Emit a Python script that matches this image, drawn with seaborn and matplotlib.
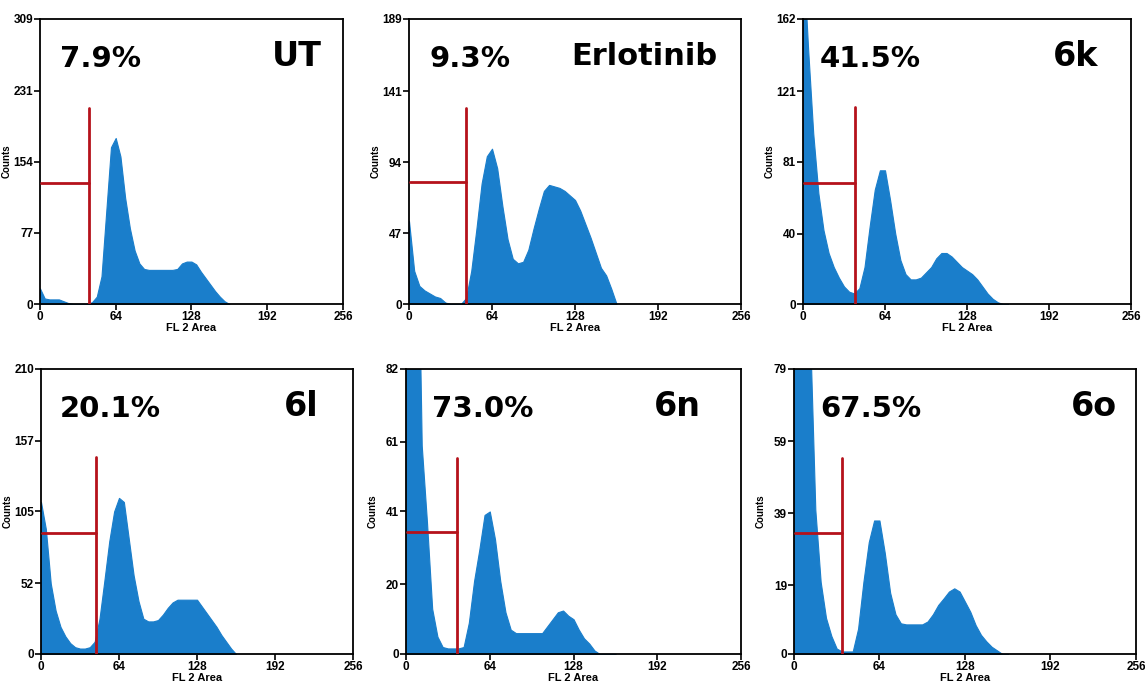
import numpy as np
import pandas as pd
import matplotlib
matplotlib.use("Agg")
import matplotlib.pyplot as plt
import seaborn as sns

# FL2-Area channel values (bin centres, width 4)
channels = [0, 4, 8, 12, 16, 20, 24, 28, 32, 36, 40, 44, 48, 52, 56, 60, 64, 68, 72, 76,
            80, 84, 88, 92, 96, 100, 104, 108, 112, 116, 120, 124, 128, 132, 136, 140,
            144, 148, 152, 156, 160]

counts_ut = [17, 6, 5, 5, 5, 3, 1, 0, 0, 0, 0, 2, 8, 30, 100, 170, 180, 160, 115, 82,
             58, 44, 38, 37, 37, 37, 37, 37, 37, 38, 44, 46, 46, 43, 35, 28,
             21, 14, 8, 3, 0]
counts_erl = [55, 22, 12, 9, 7, 5, 4, 1, 0, 0, 0, 4, 22, 50, 80, 98, 103, 90, 65, 43,
              30, 27, 28, 36, 50, 63, 75, 79, 78, 77, 75, 72, 69, 62, 53, 44,
              34, 24, 19, 10, 0]
counts_6k = [200, 145, 97, 63, 42, 29, 21, 15, 10, 7, 6, 9, 21, 44, 65, 76, 76, 59, 40, 25,
             17, 14, 14, 15, 18, 21, 26, 29, 29, 27, 24, 21, 19, 17, 14, 10,
             6, 3, 1, 0, 0]
counts_6l = [112, 92, 52, 32, 20, 13, 8, 5, 4, 4, 5, 9, 26, 54, 83, 105, 115, 112, 85, 58,
             39, 26, 24, 24, 25, 29, 34, 38, 40, 40, 40, 40, 40, 35, 30, 25,
             20, 14, 9, 4, 0]
counts_6n = [150, 150, 150, 60, 38, 13, 5, 2, 1.6, 1.6, 1.6, 2, 9, 21, 30, 40, 41, 33, 21, 12,
             7, 6, 6, 6, 6, 6, 6, 8, 10, 12, 12.5, 11, 10, 7, 4.5, 3,
             1, 0, 0, 0, 0]
counts_6o = [150, 150, 150, 90, 40, 20, 10, 5, 1.5, 0.7, 0.7, 0.7, 7, 20, 31, 37, 37, 28, 17, 11,
             8.5, 8.2, 8.2, 8.2, 8.2, 9, 11, 13.6, 15.4, 17.3, 18.2, 17.3, 14.5, 11.7, 8, 5.3,
             3.5, 2, 1, 0, 0]

names = ["UT", "Erlotinib", "6k", "6l", "6n", "6o"]
percents = ["7.9%", "9.3%", "41.5%", "20.1%", "73.0%", "67.5%"]
ymax = [309, 189, 162, 210, 82, 79]
yticks = [[0, 77, 154, 231, 309], [0, 47, 94, 141, 189], [0, 40, 81, 121, 162],
          [0, 52, 105, 157, 210], [0, 20, 41, 61, 82], [0, 19, 39, 59, 79]]
xticks = [0, 64, 128, 192, 256]
# gate marker: cut channel, vertical line top, horizontal line level
gate_x = [41.7, 43.7, 40.3, 45, 39, 35.75]
gate_top = [213, 130, 112, 145, 56.5, 54.4]
gate_y = [131.5, 80.6, 69, 89, 35, 33.6]
all_counts = [counts_ut, counts_erl, counts_6k, counts_6l, counts_6n, counts_6o]

sns.set_style("white")
plt.rcParams['font.family'] = ['Liberation Sans', 'DejaVu Sans']
plt.rcParams['text.color'] = 'black'
plt.rcParams['xtick.color'] = 'black'
plt.rcParams['ytick.color'] = 'black'
plt.rcParams['axes.labelcolor'] = 'black'

fig = plt.figure(figsize=(11.45, 6.93), dpi=100)
rects = [
    (0.0349, 0.5613, 0.2646, 0.4113),
    (0.3572, 0.5613, 0.2900, 0.4113),
    (0.7013, 0.5613, 0.2865, 0.4113),
    (0.0358, 0.0563, 0.2725, 0.4113),
    (0.3546, 0.0563, 0.2926, 0.4113),
    (0.6934, 0.0563, 0.2987, 0.4113),
]
name_x = [0.93, 0.93, 0.90, 0.89, 0.88, 0.945]
pct_x = [0.065, 0.063, 0.052, 0.061, 0.078, 0.076]

blue = "#1a7ecb"
red = "#b5121b"

for i in range(6):
    ax = fig.add_axes(rects[i])
    df = pd.DataFrame({"ch": channels, "n": all_counts[i]})
    sns.histplot(data=df, x="ch", weights="n", binwidth=4, binrange=(-2, 162),
                 element="poly", fill=True, color=blue, alpha=1.0, linewidth=0.8,
                 edgecolor=blue, ax=ax)
    ax.set_xlim(0, 256)
    ax.set_ylim(0, ymax[i])
    ax.set_xticks(xticks)
    ax.set_yticks(yticks[i])
    ax.set_xticklabels([str(t) for t in xticks], fontsize=8.5, fontweight="bold")
    ax.set_yticklabels([str(t) for t in yticks[i]], fontsize=8.5, fontweight="bold")
    ax.tick_params(direction="out", length=4, width=1.2, pad=1,
                   left=True, bottom=True)
    for s in ax.spines.values():
        s.set_color("black")
        s.set_linewidth(1.3)
    ax.set_xlabel("FL 2 Area", fontsize=8, fontweight="bold", labelpad=0)
    ax.set_ylabel("Counts", fontsize=7, fontweight="bold")
    ax.yaxis.set_label_coords(-28.0 / (rects[i][2] * 1145), 0.5)
    # gate marker
    ax.plot([gate_x[i], gate_x[i]], [0, gate_top[i]], color=red, lw=2, zorder=5)
    ax.plot([0.5, gate_x[i]], [gate_y[i], gate_y[i]], color=red, lw=2, zorder=5)
    ax.text(pct_x[i], 0.86, percents[i], transform=ax.transAxes, fontsize=21,
            fontweight="bold", ha="left", va="center", family="DejaVu Sans")
    ax.text(name_x[i], 0.87, names[i], transform=ax.transAxes,
            fontsize=22 if names[i] == "Erlotinib" else 24,
            fontweight="bold", ha="right", va="center", family="DejaVu Sans")

fig.savefig("out.png", dpi=100)
